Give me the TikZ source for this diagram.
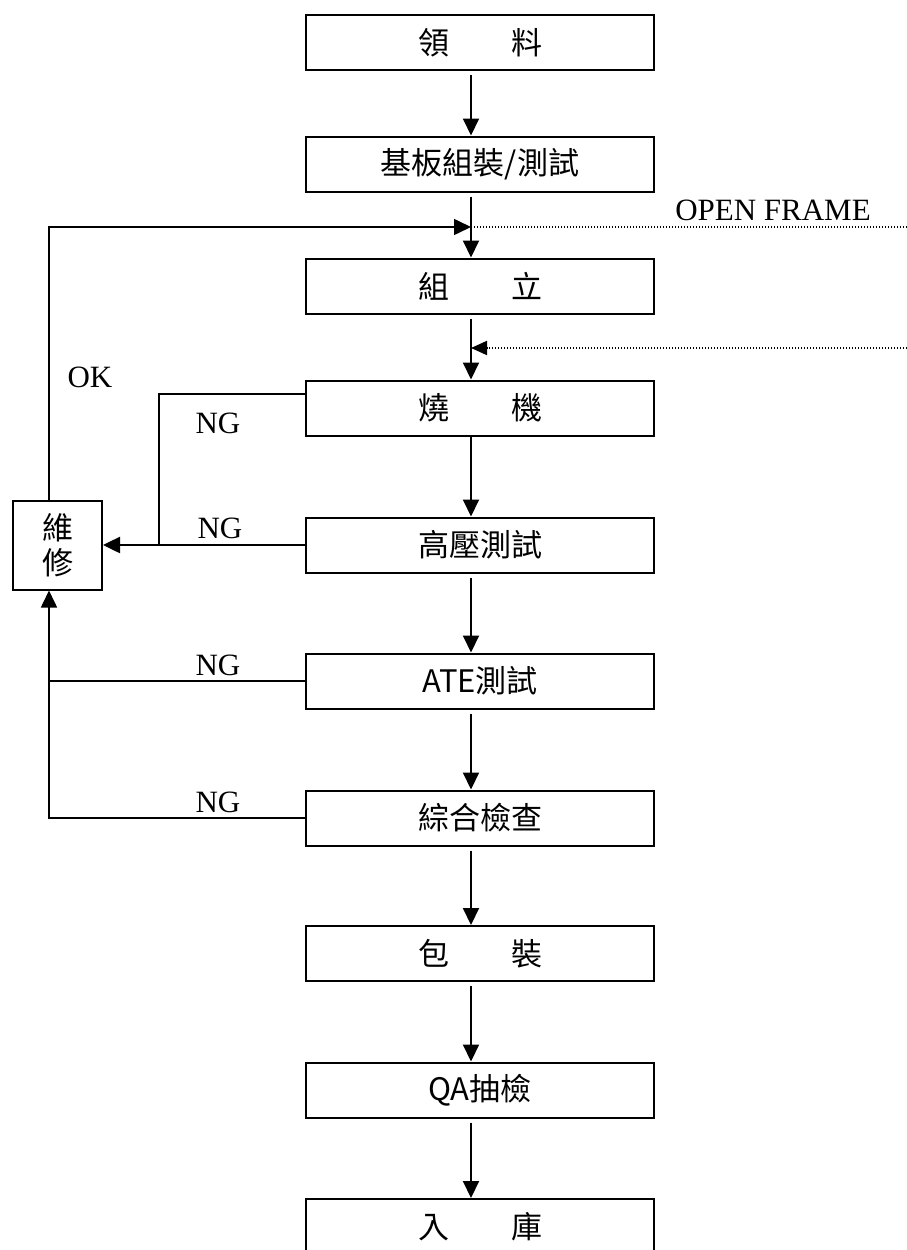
\documentclass[tikz,border=0pt]{standalone}
\usepackage{fontspec}
\setmainfont{Liberation Serif}
\newfontfamily\cjkfont{Noto Sans CJK TC}
\usepackage{tikz}
\usetikzlibrary{arrows.meta, positioning, calc}

\begin{document}
\begin{tikzpicture}[
  x=1pt, y=-1pt,
  pbox/.style={draw, line width=2pt, minimum width=348pt, minimum height=55pt, inner sep=0pt, font=\cjkfont\fontsize{31}{35}\selectfont},
  flow/.style={line width=2pt, -{Triangle[length=17pt, width=16pt]}},
  back/.style={line width=1.6pt},
  dotline/.style={line width=1.4pt, dash pattern=on 1.2pt off 1.8pt},
  lbl/.style={inner sep=0pt, anchor=base, font=\fontsize{31}{35}\selectfont}
]
  \useasboundingbox (0,0) rectangle (907,1250);
  \clip (0,0) rectangle (907,1250);

  % main steps
  \node[pbox] (lingliao) at (480, 42.5) {領　　料};
  \node[pbox] (jiban) at (480, 164) {基板組裝/測試};
  \node[pbox] (zuli) at (480, 286) {組　　立};
  \node[pbox] (shaoji) at (480, 408) {燒　　機};
  \node[pbox] (gaoya) at (480, 545) {高壓測試};
  \node[pbox] (ate) at (480, 681) {ATE測試};
  \node[pbox] (zonghe) at (480, 818) {綜合檢查};
  \node[pbox] (baozhuang) at (480, 953.5) {包　　裝};
  \node[pbox] (qa) at (480, 1090) {QA抽檢};
  \node[pbox] (ruku) at (480, 1226.5) {入　　庫};
  \node[pbox, minimum width=89pt, minimum height=89pt, align=center] (weixiu) at (57.5, 545) {維\\修};

  \coordinate (ax) at (471, 0);
  \coordinate (lx) at (49, 0);
  \coordinate (ngx) at (159, 0);
  \coordinate (merge) at (471, 227);
  \coordinate (frameend) at (907, 227);
  \coordinate (feedend) at (907, 348);
  \coordinate (feedin) at (471, 348);

  % flow down
  \draw[flow, shorten <=4pt] (lingliao.south -| ax) -- (jiban.north -| ax);
  \draw[flow, shorten <=4pt] (jiban.south -| ax) -- (zuli.north -| ax);
  \draw[flow, shorten <=4pt] (zuli.south -| ax) -- (shaoji.north -| ax);
  \draw[flow] (shaoji.south -| ax) -- (gaoya.north -| ax);
  \draw[flow, shorten <=4pt] (gaoya.south -| ax) -- (ate.north -| ax);
  \draw[flow, shorten <=4pt] (ate.south -| ax) -- (zonghe.north -| ax);
  \draw[flow, shorten <=4pt] (zonghe.south -| ax) -- (baozhuang.north -| ax);
  \draw[flow, shorten <=4pt] (baozhuang.south -| ax) -- (qa.north -| ax);
  \draw[flow, shorten <=4pt] (qa.south -| ax) -- (ruku.north -| ax);

  % open frame feeds
  \draw[dotline] (merge) -- (frameend);
  \draw[dotline, line width=1.8pt, -{Triangle[length=16pt, width=14pt]}] (feedend) -- (feedin);
  \node[lbl] (openframe) at (773, 220) {OPEN FRAME};

  % repair loops
  \draw[back] ([yshift=14pt]shaoji.west) -| (gaoya.west -| ngx);
  \draw[flow, line width=2.5pt] (gaoya.west) -- (gaoya.west -| weixiu.east);
  \draw[back] (ate.west) -- (ate.west -| lx);
  \draw[flow, line width=1.6pt] (zonghe.west) -| (weixiu.south -| lx);
  \draw[flow, line width=1.6pt] (weixiu.north -| lx) |- (merge);

  \node[lbl] (ng1) at (218, 433) {NG};
  \node[lbl] (ng2) at (220, 538) {NG};
  \node[lbl] (ng3) at (218, 675) {NG};
  \node[lbl] (ng4) at (218, 812) {NG};
  \node[lbl] (ok) at (90, 387) {OK};
\end{tikzpicture}
\end{document}
